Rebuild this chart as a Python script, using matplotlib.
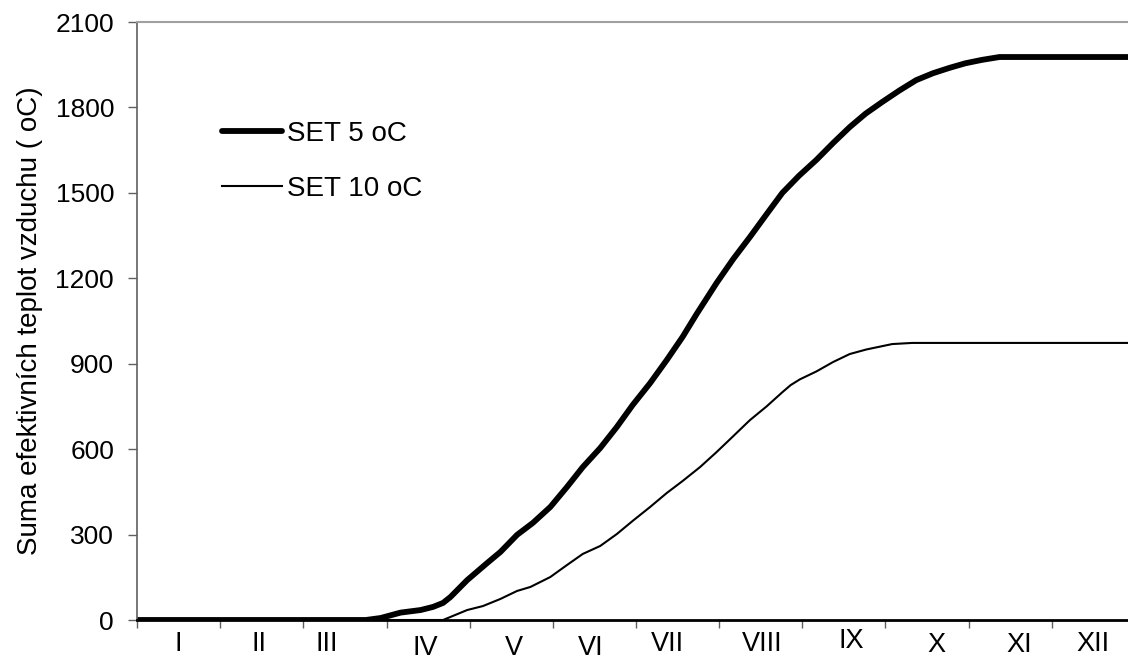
import numpy as np
import matplotlib.pyplot as plt

plt.rcParams['font.family'] = ['Liberation Sans', 'DejaVu Sans']

# x in months from 1 January (0 = start of I, 12 = end of XII)
set5_x = [0, 2.75, 2.93, 3.17, 3.41, 3.56, 3.68, 3.77, 3.97, 4.21, 4.37, 4.57, 4.76,
          4.97, 5.17, 5.36, 5.57, 5.77, 5.96, 6.17, 6.37, 6.56, 6.73, 6.97, 7.17, 7.37,
          7.57, 7.76, 7.96, 8.17, 8.37, 8.57, 8.76, 8.96, 9.17, 9.37, 9.57, 9.77,
          9.96, 10.16, 10.37, 12.0]
set5_y = [0, 0, 7, 26, 35, 46, 60, 81, 140, 200, 239, 299, 341,
          397, 467, 537, 604, 678, 755, 832, 913, 994, 1075, 1184, 1268, 1345,
          1425, 1500, 1560, 1616, 1675, 1731, 1778, 1819, 1860, 1896, 1920, 1939,
          1955, 1967, 1977, 1977]

set10_x = [0, 3.68, 3.97, 4.16, 4.37, 4.57, 4.73, 4.97, 5.17, 5.36, 5.57, 5.77, 5.96,
           6.17, 6.37, 6.56, 6.77, 6.97, 7.16, 7.37, 7.57, 7.76, 7.86, 7.97, 8.17, 8.37,
           8.57, 8.77, 9.08, 9.32, 12.0]
set10_y = [0, 0, 35, 49, 74, 102, 116, 151, 193, 232, 260, 302, 348,
           397, 446, 488, 537, 590, 643, 702, 750, 800, 825, 845, 873, 906,
           934, 950, 969, 973, 973]

months = ['I', 'II', 'III', 'IV', 'V', 'VI', 'VII', 'VIII', 'IX', 'X', 'XI', 'XII']
# staggered month labels as in the original (offsets in points)
month_dy = [8, 8, 8, 11, 11, 11, 8, 8, 6, 8.5, 8.5, 8]
month_dx = [0, -2, -13, -2, 2, -3, -7, 1, 5, 6.5, 6.5, 0]

fig = plt.figure(figsize=(11.28, 6.57), dpi=100)
ax = fig.add_axes([137 / 1128, 1 - 620 / 657, 998 / 1128, 598 / 657])

ax.plot(set5_x, set5_y, color='black', lw=4.2, label='SET 5 oC', solid_capstyle='round')
ax.plot(set10_x, set10_y, color='black', lw=1.5, label='SET 10 oC')

ax.set_xlim(0, 12)
ax.set_ylim(0, 2100)
ax.set_yticks(np.arange(0, 2101, 300))
ax.set_xticks(np.arange(0, 13))
ax.set_xticklabels([])
ax.tick_params(axis='y', labelsize=19, length=6.5, width=1, color='#606060', pad=10)
ax.tick_params(axis='x', length=6, width=1, color='#606060')

for i, m in enumerate(months):
    ax.annotate(m, xy=(i + 0.5, 0), xycoords='data',
                xytext=(month_dx[i], -month_dy[i]),
                textcoords='offset points', ha='center', va='top', fontsize=19.5)

ax.spines['left'].set_color('#606060')
ax.spines['left'].set_linewidth(1.2)
ax.spines['top'].set_color('#a0a0a0')
ax.spines['top'].set_linewidth(1.5)
ax.spines['right'].set_visible(False)
ax.spines['bottom'].set_color('black')
ax.spines['bottom'].set_linewidth(2)

ax.set_ylabel('Suma efektivních teplot vzduchu ( oC)', fontsize=20)
ax.yaxis.set_label_coords(-0.094, 0.5)

ax.legend(loc='upper left', bbox_to_anchor=(222 / 1128, 1 - 121 / 657),
          bbox_transform=fig.transFigure, frameon=False, fontsize=20,
          handlelength=2.15, handletextpad=0.2, labelspacing=1.05,
          borderpad=0, borderaxespad=0)

plt.savefig('out.png', dpi=100)
